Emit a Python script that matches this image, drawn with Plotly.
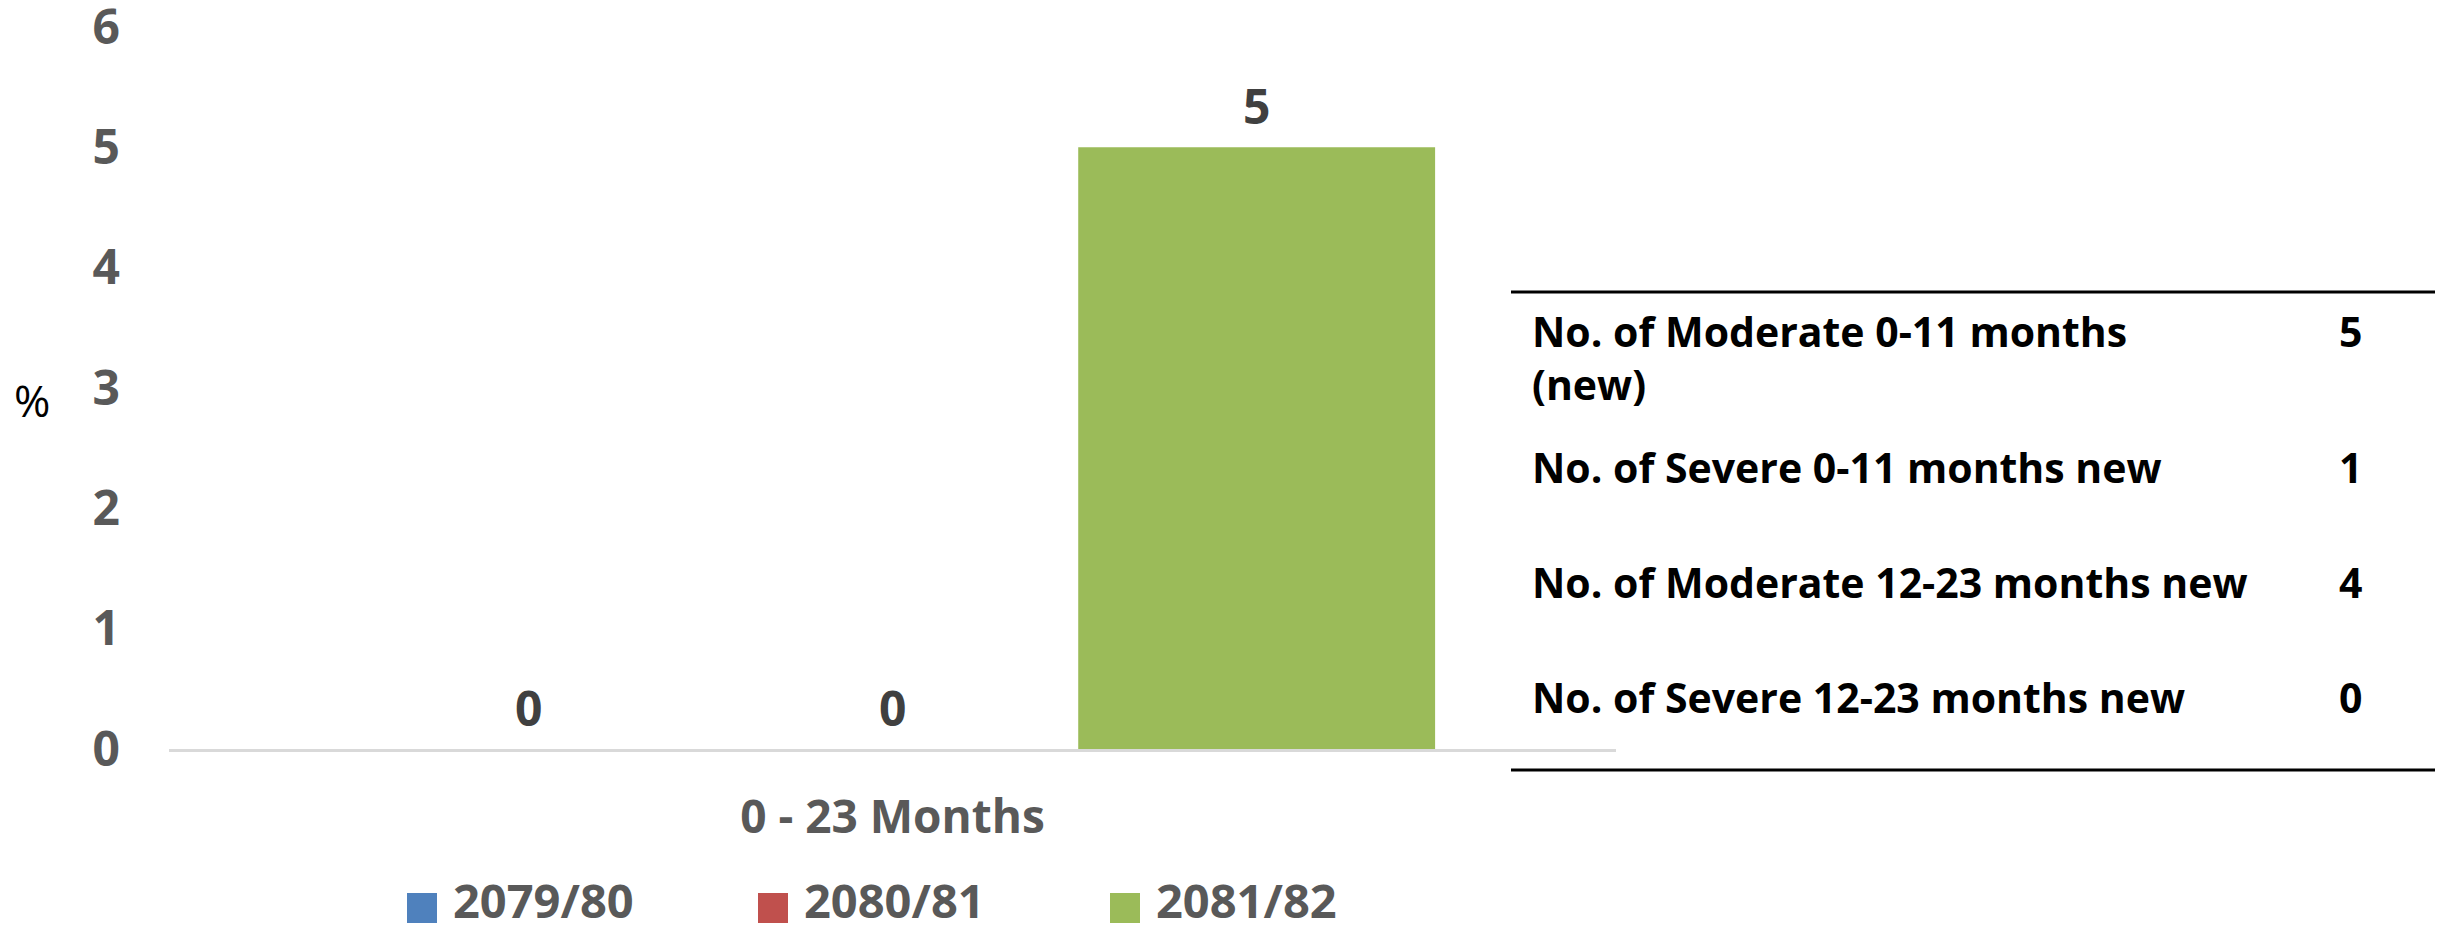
import plotly.graph_objects as go

# ---------------- data ----------------
categories = ["0 - 23 Months"]
series_names = ["2079/80", "2080/81", "2081/82"]
series_values = [[0], [0], [5]]
series_colors = ["#4F81BD", "#C0504D", "#9BBB59"]
y_ticks = [0, 1, 2, 3, 4, 5, 6]
y_title = "%"

table_labels = [
    "No. of Moderate 0-11 months<br>(new)",
    "No. of Severe 0-11 months new",
    "No. of Moderate 12-23 months new",
    "No. of Severe 12-23 months new",
]
table_values = [5, 1, 4, 0]

# ---------------- layout geometry (pixels) ----------------
W, H = 2448, 932
L, R, T, B = 169, 1616, 27, 749
PW, PH = R - L, B - T
FONT = "Open Sans, Noto Sans, DejaVu Sans, sans-serif"
BARGAP = 0.245


def px_x(px):
    return (px - L) / PW


def px_y(py):
    return (B - py) / PH


fig = go.Figure()
for name, vals, col in zip(series_names, series_values, series_colors):
    fig.add_trace(go.Bar(
        x=categories, y=vals, name=name,
        marker=dict(color=col, line=dict(width=0)),
        showlegend=False,
    ))

# data labels above bars
n = len(series_names)
slot = (1 - BARGAP) / n
annotations = []
for i, (name, vals) in enumerate(zip(series_names, series_values)):
    for ci, v in enumerate(vals):
        xc = ci - (1 - BARGAP) / 2 + (i + 0.5) * slot
        annotations.append(dict(
            x=xc, y=v, xref="x", yref="y", text=f"<b>{v}</b>",
            showarrow=False, yanchor="bottom", yshift=7,
            font=dict(family=FONT, size=48, color="#404040"),
        ))

# y axis title
annotations.append(dict(
    x=px_x(32), y=px_y(400), xref="paper", yref="paper", text=y_title,
    showarrow=False, xanchor="center", yanchor="middle",
    font=dict(family=FONT, size=44, color="#000000"),
))

# custom legend
leg_sq_x = [407, 758, 1110]
shapes = []
for name, col, sx in zip(series_names, series_colors, leg_sq_x):
    shapes.append(dict(
        type="rect", xref="paper", yref="paper",
        x0=px_x(sx), x1=px_x(sx + 30), y0=px_y(923), y1=px_y(893),
        fillcolor=col, line=dict(width=0),
    ))
    annotations.append(dict(
        x=px_x(sx + 44), y=px_y(900), xref="paper", yref="paper",
        text=f"<b>{name}</b>", showarrow=False, xanchor="left", yanchor="middle",
        font=dict(family=FONT, size=47, color="#595959"),
    ))

# table
tbl_x0, tbl_x1 = 1511, 2435
for ly in (292, 770):
    shapes.append(dict(
        type="line", xref="paper", yref="paper",
        x0=px_x(tbl_x0), x1=px_x(tbl_x1), y0=px_y(ly), y1=px_y(ly),
        line=dict(color="#000000", width=3),
    ))
row_centers = [331, 467, 582, 697]
for lab, val, rc in zip(table_labels, table_values, row_centers):
    annotations.append(dict(
        x=px_x(1530), y=px_y(rc - 30), xref="paper", yref="paper",
        text=f"<b>{lab}</b>", showarrow=False, xanchor="left", yanchor="top",
        align="left",
        font=dict(family=FONT, size=41, color="#000000"),
    ))
    annotations.append(dict(
        x=px_x(2350), y=px_y(rc - 30), xref="paper", yref="paper",
        text=f"<b>{val}</b>", showarrow=False, xanchor="center", yanchor="top",
        font=dict(family=FONT, size=41, color="#000000"),
    ))

fig.update_layout(
    width=W, height=H,
    margin=dict(l=L, r=W - R, t=T, b=H - B, pad=0, autoexpand=False),
    paper_bgcolor="white", plot_bgcolor="white",
    barmode="group", bargap=BARGAP, bargroupgap=0.02,
    showlegend=False,
    annotations=annotations, shapes=shapes,
    xaxis=dict(
        automargin=False,
        showline=True, linecolor="#D9D9D9", linewidth=3,
        showgrid=False, zeroline=False,
        ticks="outside", ticklen=26, tickcolor="rgba(0,0,0,0)",
        tickfont=dict(family=FONT, size=46, color="#595959", weight="bold"),
    ),
    yaxis=dict(
        automargin=False,
        range=[0, 6], tickvals=y_ticks, ticktext=[str(t) for t in y_ticks],
        showgrid=False, zeroline=False, showline=False,
        ticks="", ticklabelstandoff=48, ticklabeloverflow="allow",
        tickfont=dict(family=FONT, size=48, color="#595959", weight="bold"),
    ),
)

fig.write_html(
    "out.html",
    config={"displayModeBar": False},
    post_script="document.body.style.margin='0';document.body.style.padding='0';",
)
